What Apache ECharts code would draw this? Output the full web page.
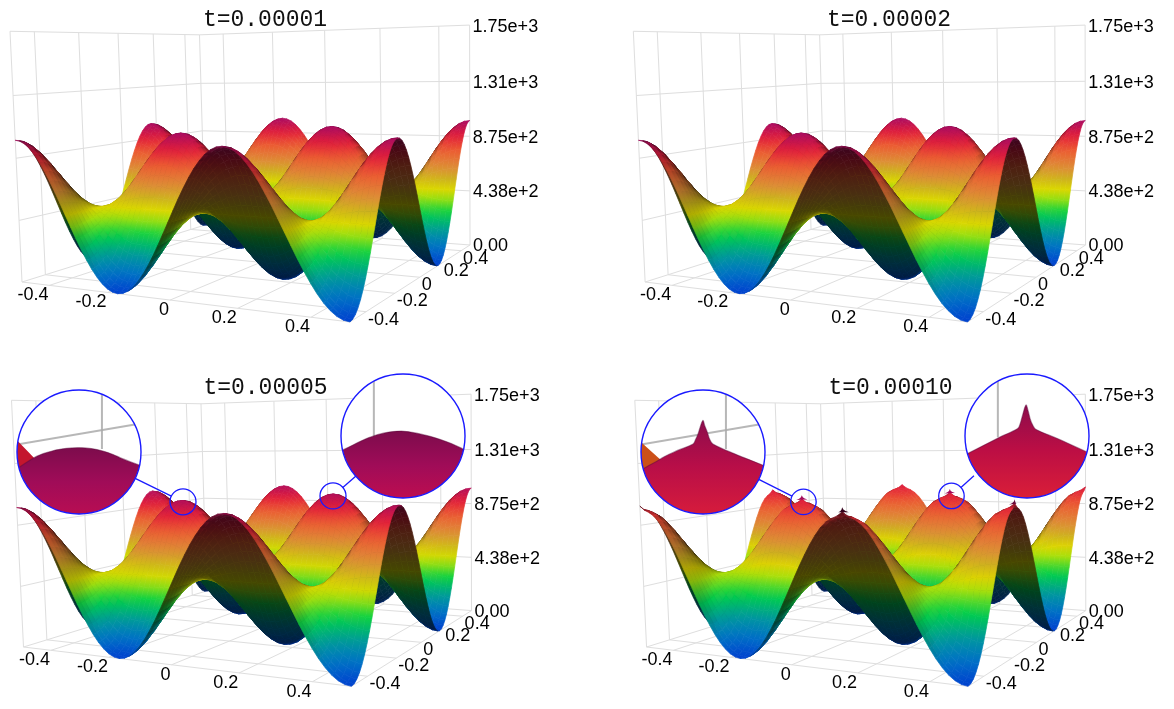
<!DOCTYPE html>
<html><head><meta charset="utf-8">
<style>html,body{margin:0;padding:0;background:#fff}#c{width:1174px;height:709px}</style>
<script src="https://cdn.jsdelivr.net/npm/echarts@6/dist/echarts.min.js"></script>
</head><body><div id="c"></div>
<script>
// ---- values ----
const titles = ['t=0.00001','t=0.00002','t=0.00005','t=0.00010'];
const xTicks = [-0.4,-0.2,0,0.2,0.4];
const yTicks = [-0.4,-0.2,0,0.2,0.4];
const tickLabels = ['-0.4','-0.2','0','0.2','0.4'];
const zTicks = [0,438,875,1310,1750];
const zTickLabels = ['0.00','4.38e+2','8.75e+2','1.31e+3','1.75e+3'];
const zMax = 1750;
// height rows over the domain (61 stations per side)
const m0=[1000,994,976,946,905,854,794,727,655,578,500,422,345,273,206,146,95,54,24,6,0,6,24,54,95,146,206,273,345,422,500,578,655,727,794,854,905,946,976,994,1000,994,976,946,905,854,794,727,655,578,500,422,345,273,206,146,95,54,24,6,0];
const m1=[994,988,970,940,900,849,790,724,653,577,500,423,347,276,210,151,100,60,30,12,6,12,30,60,100,151,210,276,347,423,500,577,653,724,790,849,900,940,970,988,994,988,970,940,900,849,790,724,653,577,500,423,347,276,210,151,100,60,30,12,6];
const m2=[976,970,952,924,885,836,780,716,647,574,500,426,353,284,220,164,115,76,48,30,24,30,48,76,115,164,220,284,353,426,500,574,647,716,780,836,885,924,952,970,976,970,952,924,885,836,780,716,647,574,500,426,353,284,220,164,115,76,48,30,24];
const m3=[946,940,924,897,860,815,762,702,638,570,500,430,362,298,238,185,140,103,76,60,54,60,76,103,140,185,238,298,362,430,500,570,638,702,762,815,860,897,924,940,946,940,924,897,860,815,762,702,638,570,500,430,362,298,238,185,140,103,76,60,54];
const m4=[905,900,885,860,827,786,738,684,625,563,500,437,375,316,262,214,173,140,115,100,95,100,115,140,173,214,262,316,375,437,500,563,625,684,738,786,827,860,885,900,905,900,885,860,827,786,738,684,625,563,500,437,375,316,262,214,173,140,115,100,95];
const m5=[854,849,836,815,786,750,708,661,609,555,500,445,391,339,292,250,214,185,164,151,146,151,164,185,214,250,292,339,391,445,500,555,609,661,708,750,786,815,836,849,854,849,836,815,786,750,708,661,609,555,500,445,391,339,292,250,214,185,164,151,146];
const m6=[794,790,780,762,738,708,673,633,591,546,500,454,409,367,327,292,262,238,220,210,206,210,220,238,262,292,327,367,409,454,500,546,591,633,673,708,738,762,780,790,794,790,780,762,738,708,673,633,591,546,500,454,409,367,327,292,262,238,220,210,206];
const m7=[727,724,716,702,684,661,633,603,570,536,500,464,430,397,367,339,316,298,284,276,273,276,284,298,316,339,367,397,430,464,500,536,570,603,633,661,684,702,716,724,727,724,716,702,684,661,633,603,570,536,500,464,430,397,367,339,316,298,284,276,273];
const m8=[655,653,647,638,625,609,591,570,548,524,500,476,452,430,409,391,375,362,353,347,345,347,353,362,375,391,409,430,452,476,500,524,548,570,591,609,625,638,647,653,655,653,647,638,625,609,591,570,548,524,500,476,452,430,409,391,375,362,353,347,345];
const m9=[578,577,574,570,563,555,546,536,524,512,500,488,476,464,454,445,437,430,426,423,422,423,426,430,437,445,454,464,476,488,500,512,524,536,546,555,563,570,574,577,578,577,574,570,563,555,546,536,524,512,500,488,476,464,454,445,437,430,426,423,422];
const mid=[500,500,500,500,500,500,500,500,500,500,500,500,500,500,500,500,500,500,500,500,500,500,500,500,500,500,500,500,500,500,500,500,500,500,500,500,500,500,500,500,500,500,500,500,500,500,500,500,500,500,500,500,500,500,500,500,500,500,500,500,500];
const n9=[422,423,426,430,437,445,454,464,476,488,500,512,524,536,546,555,563,570,574,577,578,577,574,570,563,555,546,536,524,512,500,488,476,464,454,445,437,430,426,423,422,423,426,430,437,445,454,464,476,488,500,512,524,536,546,555,563,570,574,577,578];
const n8=[345,347,353,362,375,391,409,430,452,476,500,524,548,570,591,609,625,638,647,653,655,653,647,638,625,609,591,570,548,524,500,476,452,430,409,391,375,362,353,347,345,347,353,362,375,391,409,430,452,476,500,524,548,570,591,609,625,638,647,653,655];
const n7=[273,276,284,298,316,339,367,397,430,464,500,536,570,603,633,661,684,702,716,724,727,724,716,702,684,661,633,603,570,536,500,464,430,397,367,339,316,298,284,276,273,276,284,298,316,339,367,397,430,464,500,536,570,603,633,661,684,702,716,724,727];
const n6=[206,210,220,238,262,292,327,367,409,454,500,546,591,633,673,708,738,762,780,790,794,790,780,762,738,708,673,633,591,546,500,454,409,367,327,292,262,238,220,210,206,210,220,238,262,292,327,367,409,454,500,546,591,633,673,708,738,762,780,790,794];
const n5=[146,151,164,185,214,250,292,339,391,445,500,555,609,661,708,750,786,815,836,849,854,849,836,815,786,750,708,661,609,555,500,445,391,339,292,250,214,185,164,151,146,151,164,185,214,250,292,339,391,445,500,555,609,661,708,750,786,815,836,849,854];
const n4=[95,100,115,140,173,214,262,316,375,437,500,563,625,684,738,786,827,860,885,900,905,900,885,860,827,786,738,684,625,563,500,437,375,316,262,214,173,140,115,100,95,100,115,140,173,214,262,316,375,437,500,563,625,684,738,786,827,860,885,900,905];
const n3=[54,60,76,103,140,185,238,298,362,430,500,570,638,702,762,815,860,897,924,940,946,940,924,897,860,815,762,702,638,570,500,430,362,298,238,185,140,103,76,60,54,60,76,103,140,185,238,298,362,430,500,570,638,702,762,815,860,897,924,940,946];
const n2=[24,30,48,76,115,164,220,284,353,426,500,574,647,716,780,836,885,924,952,970,976,970,952,924,885,836,780,716,647,574,500,426,353,284,220,164,115,76,48,30,24,30,48,76,115,164,220,284,353,426,500,574,647,716,780,836,885,924,952,970,976];
const n1=[6,12,30,60,100,151,210,276,347,423,500,577,653,724,790,849,900,940,970,988,994,988,970,940,900,849,790,724,653,577,500,423,347,276,210,151,100,60,30,12,6,12,30,60,100,151,210,276,347,423,500,577,653,724,790,849,900,940,970,988,994];
const n0=[0,6,24,54,95,146,206,273,345,422,500,578,655,727,794,854,905,946,976,994,1000,994,976,946,905,854,794,727,655,578,500,422,345,273,206,146,95,54,24,6,0,6,24,54,95,146,206,273,345,422,500,578,655,727,794,854,905,946,976,994,1000];
const heights=[m0,m1,m2,m3,m4,m5,m6,m7,m8,m9,mid,n9,n8,n7,n6,n5,n4,n3,n2,n1,n0,n1,n2,n3,n4,n5,n6,n7,n8,n9,mid,m9,m8,m7,m6,m5,m4,m3,m2,m1,m0,m1,m2,m3,m4,m5,m6,m7,m8,m9,mid,n9,n8,n7,n6,n5,n4,n3,n2,n1,n0];
// peak stations and the sharpening of the last time step
const peakNodes=[[0,0],[0,40],[20,20],[20,60],[40,0],[40,40],[60,20],[60,60]];
const cuspNodes=[[20,20],[40,0],[40,40],[60,20]];
const tentOffsets=[[0,0,10],[1,0,-12],[-1,0,-12],[0,1,-12],[0,-1,-12],[2,0,-10],[-2,0,-10],[0,2,-10],[0,-2,-10],[3,0,-4],[-3,0,-4],[0,3,-4],[0,-3,-4],
 [1,1,-12],[1,-1,-12],[-1,1,-12],[-1,-1,-12],[2,1,-10],[2,-1,-10],[-2,1,-10],[-2,-1,-10],[1,2,-10],[1,-2,-10],[-1,2,-10],[-1,-2,-10],[2,2,-8],[2,-2,-8],[-2,2,-8],[-2,-2,-8]];
const cuspProfile=[[-0.012,-4],[-0.006,4],[-0.002,14],[0,28],[0.002,14],[0.006,4],[0.012,-4]];
// colour map
const colorValues=[0,90,200,330,440,505,575,660,790,890,1000];
const colorR=[0,0,0,0,165,222,205,222,236,226,172];
const colorG=[66,110,150,208,224,214,178,140,90,30,12];
const colorB=[206,200,160,72,12,0,30,56,50,58,96];
const colorScalePerPanel=[1,1,1.02,1.12];
// lenses (insets)
const prof5L=[[-1.1,0.42],[-0.74,0.1],[-0.42,-0.02],[-0.2,-0.06],[0,-0.07],[0.2,-0.055],[0.385,-0.016],[0.55,0.04],[0.7,0.107],[0.97,0.21],[1.1,0.26],[1.1,1.1],[-1.1,1.1]];
const prof5R=[[-1.1,0.28],[-0.96,0.22],[-0.56,0.03],[-0.3,-0.05],[-0.03,-0.08],[0.2,-0.05],[0.45,0.01],[0.78,0.12],[0.99,0.22],[1.1,0.28],[1.1,1.1],[-1.1,1.1]];
const prof10L=[[-1.1,0.42],[-0.7,0.12],[-0.4,-0.03],[-0.16,-0.13],[-0.12,-0.2],[-0.08,-0.29],[-0.04,-0.42],[0,-0.51],[0.03,-0.42],[0.07,-0.32],[0.11,-0.2],[0.16,-0.13],[0.51,0.03],[0.96,0.21],[1.1,0.28],[1.1,1.1],[-1.1,1.1]];
const prof10R=[[-1.1,0.36],[-0.95,0.28],[-0.42,0.01],[-0.15,-0.12],[-0.11,-0.2],[-0.07,-0.34],[-0.016,-0.5],[0.02,-0.4],[0.05,-0.28],[0.09,-0.18],[0.14,-0.11],[0.49,0.04],[0.95,0.25],[1.1,0.32],[1.1,1.1],[-1.1,1.1]];
const wedge5L=[[-1.1,-0.3],[-1,-0.19],[-0.7,0.12],[-1.1,0.5]];
const wedge10L=[[-1.1,-0.2],[-0.98,-0.14],[-0.68,0.13],[-1.1,0.5]];
const gridLeft=[[0.37,-1.1,0.37,-0.05],[-1,-0.12,0.95,-0.45]];
const gridRight=[[-0.47,-1.1,-0.47,0.02]];

// ---- view of the box ----
function proj(s,t,Z){
  const W=1-0.1772*s+0.318*t-0.025*Z;
  return [(266*s+248.2*t-12.25*Z+22)/W,(-17.06*s+14.55*t-251.5*Z+282)/W];
}
const toS=x=>x+0.5;
const panelOffsets=[[0,0],[623.5,0],[1.5,369.5],[625,369.5]];
const titleCenters=[[260,16],[884,16],[260.5,384],[885.5,384]];
const panelW=560,panelH=345;
const lensPerPanel=[[],[],
 [{small:[181.5,134.5],big:[77.5,82.5],r:62,prof:prof5L,wedge:wedge5L,wedgeColor:'#c4162e',lines:gridLeft,top:'#7c0c4c',mid:'#a00c58',bot:'#c40e50'},
  {small:[331.5,128.5],big:[401.5,66.5],r:62,prof:prof5R,wedge:null,lines:gridRight,top:'#7c0c4c',mid:'#a00c58',bot:'#cc0e4c'}],
 [{small:[182,134.5],big:[78,82.5],r:62,prof:prof10L,wedge:wedge10L,wedgeColor:'#cc5018',lines:gridLeft,top:'#8c0c4c',mid:'#b80e48',bot:'#e02038'},
  {small:[333,128.5],big:[402,66.5],r:62,prof:prof10R,wedge:null,lines:gridRight,top:'#8c0c4c',mid:'#bc0e44',bot:'#e42434'}]];

// ---- helpers ----
function clamp(x,a,b){return Math.max(a,Math.min(b,x));}
function cmap(v){
  v=clamp(v,colorValues[0],colorValues[colorValues.length-1]);
  let k=0;while(k<colorValues.length-2&&v>colorValues[k+1])k++;
  const f=(v-colorValues[k])/(colorValues[k+1]-colorValues[k]);
  return [colorR[k]+f*(colorR[k+1]-colorR[k]),colorG[k]+f*(colorG[k+1]-colorG[k]),colorB[k]+f*(colorB[k+1]-colorB[k])];
}
function rgb(c,b){return 'rgb('+c.map(x=>Math.round(clamp(x*b,0,255))).join(',')+')';}
const light=(()=>{const l=[0.22,-0.78,0.58];const n=Math.hypot(...l);return l.map(x=>x/n);})();
function brightness(H,i,j){
  const n=H.length-1;
  const ia=Math.max(0,i-1),ib=Math.min(n,i+1),ja=Math.max(0,j-1),jb=Math.min(n,j+1);
  const dzs=(H[ib][j]-H[ia][j])/zMax/((ib-ia)/n);
  const dzt=(H[i][jb]-H[i][ja])/zMax/((jb-ja)/n);
  const len=Math.hypot(dzs,dzt,1);
  const d=(-dzs*light[0]-dzt*light[1]+light[2])/len;
  return clamp(0.33+1.15*Math.max(0,d),0,1);
}
function cellFill(pts,vals,bris,scale){
  let cx=0,cy=0,vm=0,bm=0;
  for(let k=0;k<4;k++){cx+=pts[k][0]/4;cy+=pts[k][1]/4;vm+=vals[k]/4;bm+=bris[k]/4;}
  let sxx=0,sxy=0,syy=0,sxv=0,syv=0,sxb=0,syb=0;
  for(let k=0;k<4;k++){
    const dx=pts[k][0]-cx,dy=pts[k][1]-cy,dv=vals[k]-vm,db=bris[k]-bm;
    sxx+=dx*dx;sxy+=dx*dy;syy+=dy*dy;sxv+=dx*dv;syv+=dy*dv;sxb+=dx*db;syb+=dy*db;
  }
  const det=sxx*syy-sxy*sxy;
  if(Math.abs(det)<1e-3)return rgb(cmap(vm/scale),bm);
  const a=(syy*sxv-sxy*syv)/det,b=(sxx*syv-sxy*sxv)/det;
  const ba=(syy*sxb-sxy*syb)/det,bb=(sxx*syb-sxy*sxb)/det;
  const g=Math.hypot(a,b);
  if(g<1e-3)return rgb(cmap(vm/scale),bm);
  const ux=a/g,uy=b/g;
  let tmin=1e9,tmax=-1e9;
  for(let k=0;k<4;k++){const t=(pts[k][0]-cx)*ux+(pts[k][1]-cy)*uy;tmin=Math.min(tmin,t);tmax=Math.max(tmax,t);}
  const bslope=clamp(ba*ux+bb*uy,-0.06,0.06);
  const stops=[0,1].map(f=>{
    const t=tmin+f*(tmax-tmin);
    return {offset:f,color:rgb(cmap((vm+g*t)/scale),clamp(bm+bslope*t,0,1))};
  });
  return new echarts.graphic.LinearGradient(cx+ux*tmin,cy+uy*tmin,cx+ux*tmax,cy+uy*tmax,stops,true);
}
function panelHeights(p){
  if(p<3)return heights;
  const H=heights.map(r=>r.slice());
  peakNodes.forEach(nd=>tentOffsets.forEach(o=>{
    const i=nd[0]+o[0],j=nd[1]+o[1];
    if(i>=0&&i<=60&&j>=0&&j<=60)H[i][j]+=o[2];
  }));
  return H;
}

// ---- wall and floor rule lines, as [s0,t0,z0,s1,t1,z1] ----
const ruleLines=[];
xTicks.forEach(x=>{const s=toS(x);ruleLines.push([s,0,0,s,1,0],[s,1,0,s,1,1]);});
yTicks.forEach(y=>{const t=toS(y);ruleLines.push([0,t,0,1,t,0],[0,t,0,0,t,1]);});
zTicks.forEach(z=>{const Z=z/zMax;ruleLines.push([0,0,Z,0,1,Z],[0,1,Z,1,1,Z]);});
ruleLines.push([0,0,0,1,0,0],[1,0,0,1,1,0],[0,0,0,0,0,1],[0,1,0,0,1,1],[1,1,0,1,1,1]);

const cellData=[];
for(let j=59;j>=0;j--)for(let i=0;i<60;i++)cellData.push([i,j]);

const labelData=[];
xTicks.forEach((x,k)=>labelData.push([0,k]));
yTicks.forEach((y,k)=>labelData.push([1,k]));
zTicks.forEach((z,k)=>labelData.push([2,k]));

const labelFont="18px 'Liberation Sans'";
function renderRule(params,api){
  const a=api.coord(proj(api.value(0),api.value(1),api.value(2)));
  const b=api.coord(proj(api.value(3),api.value(4),api.value(5)));
  return {type:'line',shape:{x1:a[0],y1:a[1],x2:b[0],y2:b[1]},style:{stroke:'#dedede',lineWidth:1},silent:true};
}
function renderLabel(params,api){
  const kind=api.value(0),k=api.value(1);
  let p,text,align,dx,dy;
  if(kind===0){p=proj(toS(xTicks[k]),0,0);text=tickLabels[k];align='right';dx=-1;dy=10;}
  else if(kind===1){p=proj(1,toS(yTicks[k]),0);text=tickLabels[k];align='left';dx=2;dy=8;}
  else{p=proj(1,1,zTicks[k]/zMax);text=zTickLabels[k];align='left';dx=3;dy=1.5;}
  const c=api.coord(p);
  return {type:'text',silent:true,style:{text:text,x:c[0]+dx,y:c[1]+dy,fill:'#000',font:labelFont,align:align,verticalAlign:'middle'}};
}
const makeSurface=(p)=>{
  const H=panelHeights(p),scale=colorScalePerPanel[p];
  return function(params,api){
    const i=api.value(0),j=api.value(1);
    const idx=[[i,j],[i+1,j],[i+1,j+1],[i,j+1]];
    const pts=idx.map(q=>api.coord(proj(q[0]/60,q[1]/60,H[q[0]][q[1]]/zMax)));
    const vals=idx.map(q=>H[q[0]][q[1]]);
    const bris=idx.map(q=>brightness(H,q[0],q[1]));
    const fill=cellFill(pts,vals,bris,scale);
    return {type:'polygon',silent:true,shape:{points:pts},style:{fill:fill,stroke:fill,lineWidth:0.7}};
  };
};
const makeCusp=(H,scale)=>function(params,api){
  const i=api.value(0),j=api.value(1),base=H[i][j];
  const pts=cuspProfile.map(c=>api.coord(proj(clamp(i/60+c[0],0,1),clamp(j/60+c[0],0,1),(base+c[1])/zMax)));
  return {type:'polygon',silent:true,shape:{points:pts},style:{fill:rgb(cmap(1000),brightness(H,i,j)*0.95)}};
};
const renderLensMarks=(p)=>function(params,api){
  const L=lensPerPanel[p][api.value(0)];
  const a=api.coord(L.small),b=api.coord(L.big);
  const rs=api.size([13,13])[0],rb=api.size([L.r,L.r])[0];
  const d=Math.hypot(b[0]-a[0],b[1]-a[1]),ux=(b[0]-a[0])/d,uy=(b[1]-a[1])/d;
  return {type:'group',silent:true,children:[
    {type:'circle',shape:{cx:a[0],cy:a[1],r:rs},style:{fill:'none',stroke:'#1a1aff',lineWidth:1.3}},
    {type:'line',shape:{x1:a[0]+ux*rs,y1:a[1]+uy*rs,x2:b[0]-ux*rb,y2:b[1]-uy*rb},style:{stroke:'#1a1aff',lineWidth:1.3}}
  ]};
};
const renderInset=(L)=>function(params,api){
  const c=api.coord([0,0]),e=api.coord([1,0]);const r=e[0]-c[0];
  const polyOf=a=>a.map(q=>api.coord(q));
  const inner=[];
  L.lines.forEach(q=>{
    const a=api.coord([q[0],q[1]]),b=api.coord([q[2],q[3]]);
    inner.push({type:'line',shape:{x1:a[0],y1:a[1],x2:b[0],y2:b[1]},style:{stroke:'#aaaaaa',lineWidth:2,opacity:0.85}});
  });
  if(L.wedge)inner.push({type:'polygon',shape:{points:polyOf(L.wedge)},style:{fill:L.wedgeColor}});
  inner.push({type:'polygon',shape:{points:polyOf(L.prof),smooth:0.35},style:{
    fill:new echarts.graphic.LinearGradient(0,0,0,1,[{offset:0,color:L.top},{offset:0.42,color:L.mid},{offset:1,color:L.bot}]),
    stroke:'rgba(90,10,60,0.45)',lineWidth:1.2}});
  return {type:'group',silent:true,children:[
    {type:'circle',shape:{cx:c[0],cy:c[1],r:r},style:{fill:'#fff'}},
    {type:'group',clipPath:{type:'circle',shape:{cx:c[0],cy:c[1],r:r}},children:inner},
    {type:'circle',shape:{cx:c[0],cy:c[1],r:r},style:{fill:'none',stroke:'#1a1aff',lineWidth:1.4}}
  ]};
};

// ---- option ----
const grid=[],xAxis=[],yAxis=[],series=[],title=[];
titles.forEach((txt,p)=>{
  const off=panelOffsets[p];
  grid.push({left:off[0],top:off[1],width:panelW,height:panelH,containLabel:false,show:false});
  xAxis.push({type:'value',gridIndex:p,min:0,max:panelW,show:false});
  yAxis.push({type:'value',gridIndex:p,min:0,max:panelH,inverse:true,show:false});
  title.push({text:txt,left:titleCenters[p][0],top:titleCenters[p][1]-13,textAlign:'center',
    textStyle:{fontFamily:'Liberation Mono',fontSize:23,fontWeight:'normal',color:'#111'}});
  const base={type:'custom',coordinateSystem:'cartesian2d',xAxisIndex:p,yAxisIndex:p,clip:false,silent:true,animation:false,progressive:0};
  series.push(Object.assign({},base,{name:'rules '+txt,z:1,data:ruleLines,renderItem:renderRule}));
  series.push(Object.assign({},base,{name:txt,z:2,data:cellData,renderItem:makeSurface(p)}));
  if(p===3)series.push(Object.assign({},base,{name:'cusps '+txt,z:3,data:cuspNodes,renderItem:makeCusp(panelHeights(3),1.12)}));
  series.push(Object.assign({},base,{name:'labels '+txt,z:4,data:labelData,renderItem:renderLabel}));
  if(lensPerPanel[p].length)series.push(Object.assign({},base,{name:'lens '+txt,z:5,data:lensPerPanel[p].map((l,k)=>[k,0]),renderItem:renderLensMarks(p)}));
});
let axisIx=titles.length;
lensPerPanel.forEach((list,p)=>list.forEach(L=>{
  const off=panelOffsets[p];
  grid.push({left:off[0]+L.big[0]-L.r,top:off[1]+L.big[1]-L.r,width:2*L.r,height:2*L.r,show:false});
  xAxis.push({type:'value',gridIndex:axisIx,min:-1,max:1,show:false});
  yAxis.push({type:'value',gridIndex:axisIx,min:-1,max:1,inverse:true,show:false});
  series.push({type:'custom',coordinateSystem:'cartesian2d',xAxisIndex:axisIx,yAxisIndex:axisIx,clip:false,silent:true,animation:false,z:10,data:[[0,0]],renderItem:renderInset(L)});
  axisIx++;
}));
const chart=echarts.init(document.getElementById('c'),null,{renderer:'canvas'});
chart.setOption({animation:false,backgroundColor:'#fff',title,grid,xAxis,yAxis,series,tooltip:{show:false}});
</script></body></html>
